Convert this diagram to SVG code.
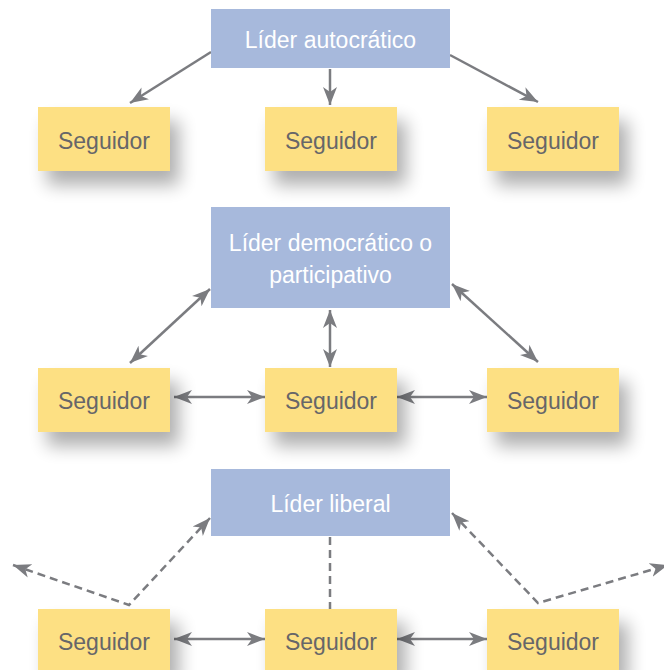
<svg xmlns="http://www.w3.org/2000/svg" width="664" height="670" viewBox="0 0 664 670">
<style>
.lead{fill:#A7B9DC}
.fol{fill:#FDE083}
.lt{font-family:"Liberation Sans",Arial,sans-serif;font-size:23px;fill:#ffffff;text-anchor:middle}
.ft{font-family:"Liberation Sans",Arial,sans-serif;font-size:23px;fill:#666669;text-anchor:middle}
.c{fill:none;stroke:#7b7c80;stroke-width:2.5}
.d{stroke-dasharray:8 5}
</style>
<defs>
<filter id="sh" x="-40%" y="-40%" width="190%" height="220%">
<feGaussianBlur in="SourceAlpha" stdDeviation="9"/>
<feOffset dx="9" dy="14" result="b"/>
<feComponentTransfer><feFuncA type="linear" slope="0.32"/></feComponentTransfer>
<feMerge><feMergeNode/><feMergeNode in="SourceGraphic"/></feMerge>
</filter>
<marker id="ah" markerUnits="userSpaceOnUse" markerWidth="19" markerHeight="16" refX="18" refY="8" orient="auto-start-reverse" viewBox="0 0 19 16">
<path d="M0,1 L18,8 L0,15 L5,8 z" fill="#7b7c80"/>
</marker>
</defs>

<g id="connectors">
<line class="c" x1="211" y1="52" x2="130" y2="103" marker-end="url(#ah)"/>
<line class="c" x1="330" y1="69" x2="330" y2="105" marker-end="url(#ah)"/>
<line class="c" x1="450" y1="55" x2="538" y2="102" marker-end="url(#ah)"/>

<line class="c" x1="130" y1="363" x2="210" y2="289" marker-start="url(#ah)" marker-end="url(#ah)"/>
<line class="c" x1="330" y1="310" x2="330" y2="367" marker-start="url(#ah)" marker-end="url(#ah)"/>
<line class="c" x1="452" y1="284" x2="538" y2="362" marker-start="url(#ah)" marker-end="url(#ah)"/>
<line class="c" x1="174" y1="397" x2="265" y2="397" marker-start="url(#ah)" marker-end="url(#ah)"/>
<line class="c" x1="397" y1="397" x2="487" y2="397" marker-start="url(#ah)" marker-end="url(#ah)"/>

<path class="c d" d="M13,565 L129,605 L210,518" marker-start="url(#ah)" marker-end="url(#ah)"/>
<line class="c d" x1="330" y1="537" x2="330" y2="609"/>
<path class="c d" d="M452,513 L538,603 L668,565" marker-start="url(#ah)" marker-end="url(#ah)"/>
<line class="c" x1="174" y1="639" x2="265" y2="639" marker-start="url(#ah)" marker-end="url(#ah)"/>
<line class="c" x1="397" y1="639" x2="487" y2="639" marker-start="url(#ah)" marker-end="url(#ah)"/>
</g>

<g id="lider-autocratico"><rect class="lead" x="211" y="9" width="239" height="59"/><text class="lt" x="330.5" y="48">Líder autocrático</text></g>
<g id="seg-1a"><rect class="fol" filter="url(#sh)" x="38" y="107" width="132" height="64"/><text class="ft" x="104" y="149">Seguidor</text></g>
<g id="seg-1b"><rect class="fol" filter="url(#sh)" x="265" y="107" width="132" height="64"/><text class="ft" x="331" y="149">Seguidor</text></g>
<g id="seg-1c"><rect class="fol" filter="url(#sh)" x="487" y="107" width="132" height="64"/><text class="ft" x="553" y="149">Seguidor</text></g>

<g id="lider-democratico"><rect class="lead" x="211" y="207" width="239" height="101"/><text class="lt" x="330.5" y="251">Líder democrático o</text><text class="lt" x="330.5" y="283">participativo</text></g>
<g id="seg-2a"><rect class="fol" filter="url(#sh)" x="38" y="368" width="132" height="64"/><text class="ft" x="104" y="409">Seguidor</text></g>
<g id="seg-2b"><rect class="fol" filter="url(#sh)" x="265" y="368" width="132" height="64"/><text class="ft" x="331" y="409">Seguidor</text></g>
<g id="seg-2c"><rect class="fol" filter="url(#sh)" x="487" y="368" width="132" height="64"/><text class="ft" x="553" y="409">Seguidor</text></g>

<g id="lider-liberal"><rect class="lead" x="211" y="469" width="239" height="67"/><text class="lt" x="330.5" y="512">Líder liberal</text></g>
<g id="seg-3a"><rect class="fol" filter="url(#sh)" x="38" y="609" width="132" height="64"/><text class="ft" x="104" y="650">Seguidor</text></g>
<g id="seg-3b"><rect class="fol" filter="url(#sh)" x="265" y="609" width="132" height="64"/><text class="ft" x="331" y="650">Seguidor</text></g>
<g id="seg-3c"><rect class="fol" filter="url(#sh)" x="487" y="609" width="132" height="64"/><text class="ft" x="553" y="650">Seguidor</text></g>
</svg>
